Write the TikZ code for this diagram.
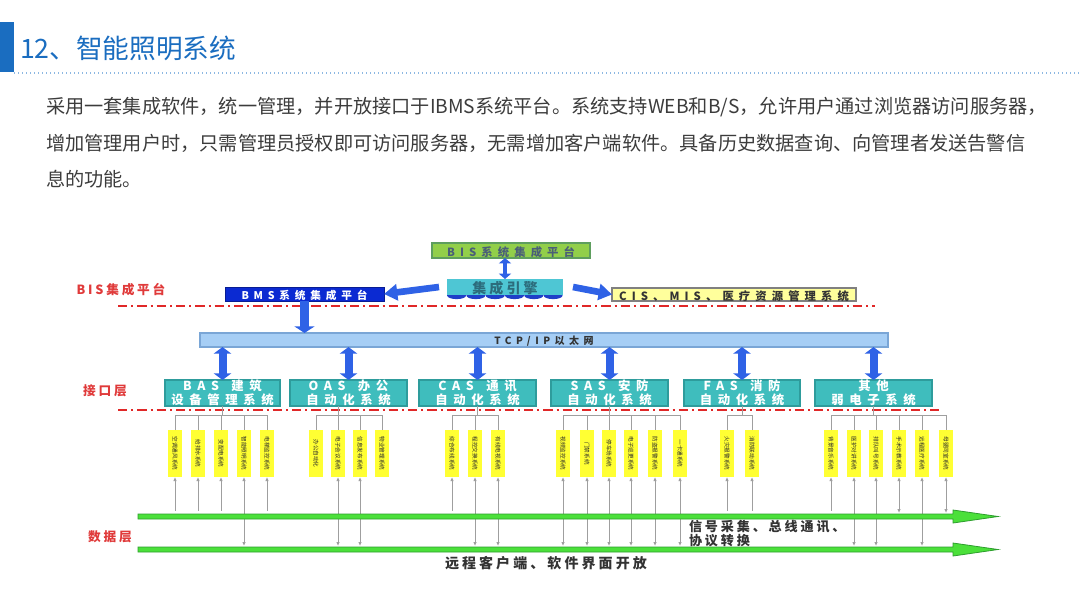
\documentclass[tikz,border=0pt]{standalone}
\usepackage{fontspec}
\setmainfont{Noto Sans CJK SC}
\newfontfamily\dfont{Noto Sans CJK SC}[LetterSpace=22]
\newfontfamily\dfontw{Noto Sans CJK SC}[LetterSpace=45]
\usetikzlibrary{arrows.meta,calc}
\definecolor{tblue}{HTML}{1A6DC0}
\definecolor{dotblue}{HTML}{8DB8E2}
\definecolor{paracol}{HTML}{3C3C3C}
\definecolor{lred}{HTML}{E03A3A}
\definecolor{dred}{HTML}{E02828}
\definecolor{bisgreen}{HTML}{92CF4A}
\definecolor{bisedge}{HTML}{5E9E5E}
\definecolor{bistext}{HTML}{4A5F78}
\definecolor{engcol}{HTML}{4EC6D4}
\definecolor{engtext}{HTML}{2C6C7C}
\definecolor{engblue}{HTML}{1F3FC8}
\definecolor{bmscol}{HTML}{0B2AD2}
\definecolor{ciscol}{HTML}{FFFF9C}
\definecolor{arrblue}{HTML}{2F62E6}
\definecolor{tcpcol}{HTML}{A6CEF5}
\definecolor{tcpedge}{HTML}{7AA6D6}
\definecolor{ifcol}{HTML}{3FBDBD}
\definecolor{ifedge}{HTML}{2E9C9C}
\definecolor{ybar}{HTML}{FFFF33}
\definecolor{glcol}{HTML}{4BE03A}
\definecolor{gledge}{HTML}{2E9E2E}
\definecolor{txtdark}{HTML}{333333}
\newcommand\dsz[1]{\dfont\bfseries\fontsize{#1}{#1}\selectfont}
\newcommand\dszw[1]{\dfontw\bfseries\fontsize{#1}{#1}\selectfont}
% box from pixel corners: name, x1, y1, x2, y2, style, text
\newcommand\bxx[7]{%
  \node[#6, minimum width={(#4-#2)*0.75pt}, minimum height={(#5-#3)*0.75pt}] (#1) at ({(#2+#4)/2},{(#3+#5)/2}) {};
  \node[#6, draw=none, fill=none, yshift=-1.1pt, textadj] (#1-t) at (#1.center) {#7};}
\tikzset{
  every node/.style={inner sep=0pt, outer sep=0pt},
  textadj/.style={},
  para/.style={anchor=west, text=paracol, font=\fontsize{14.4}{16}\selectfont},
  redlbl/.style={text=lred, font=\dsz{9.5}},
  rdash/.style={draw=dred, line width=1.5pt, dash pattern=on 7pt off 3pt on 1.5pt off 3pt},
  bisbox/.style={draw=bisedge, fill=bisgreen, line width=0.8pt, text=bistext, font=\dszw{8.5}},
  engbox/.style={fill=engcol, text=engtext, font=\dsz{10.5}},
  bmsbox/.style={draw=bmscol!70!black, fill=bmscol, line width=0.6pt, text=white, font=\dszw{8}},
  cisbox/.style={draw=gray, fill=ciscol, line width=0.8pt, text=txtdark, font=\dszw{8.5}},
  tcpbox/.style={draw=tcpedge, fill=tcpcol, line width=0.8pt, text=txtdark, font=\dszw{7.5}},
  ifbox/.style={draw=ifedge, fill=ifcol, line width=0.8pt, text=white, font=\dfontw\bfseries\fontsize{9.3}{10.6}\selectfont, align=center, textadj/.style={yshift=1.2pt}},
  ybox/.style={fill=ybar},
  ytext/.style={rotate=-90, text=txtdark!80!black, font=\fontsize{4.2}{5}\selectfont},
  fat2/.style={arrblue, line width=2.5pt, {Triangle[width=9pt,length=4pt]}-{Triangle[width=9pt,length=4pt]}},
  fatH/.style={arrblue, line width=5pt, -{Triangle[width=12pt,length=10pt]}},
  fatD/.style={arrblue, line width=7pt, -{Triangle[width=15pt,length=5pt]}},
  fatDB/.style={arrblue, line width=6pt, {Triangle[width=13pt,length=5pt]}-{Triangle[width=13pt,length=5pt]}},
  gl/.style={draw=gray!75, line width=0.7pt},
  upar/.style={gl, {Latex[length=3pt,width=2.6pt]}-},
  bothar/.style={gl, {Latex[length=3pt,width=2.6pt]}-{Latex[length=3pt,width=2.6pt]}},
  gline/.style={fill=glcol, draw=gledge, line width=0.6pt},
  btxt/.style={anchor=west, text=txtdark, font=\dsz{9.8}},
}
\begin{document}
\begin{tikzpicture}[x=0.75pt,y=-0.75pt]
\useasboundingbox[fill=white] (0,0) rectangle (1080,608);
% title
\fill[tblue] (0,22) rectangle (14,72);
\node[anchor=west, text=tblue, font=\fontsize{20}{24}\selectfont] (title) at (20,48) {12、智能照明系统};
\draw[dotblue, line width=1pt, dotted] (14,73) -- (1080,73);
% paragraph
\node[para] (p1) at (46,107) {采用一套集成软件，统一管理，并开放接口于IBMS系统平台。系统支持WEB和B/S，允许用户通过浏览器访问服务器，};
\node[para] (p2) at (46,143) {增加管理用户时，只需管理员授权即可访问服务器，无需增加客户端软件。具备历史数据查询、向管理者发送告警信};
\node[para] (p3) at (46,179) {息的功能。};
% top platform
\bxx{bis}{432}{243}{590}{258}{bisbox}{BIS系统集成平台}
\foreach \i in {0,...,5} \fill[engblue] (456.6+\i*19.3,295.5) ellipse (9.5 and 3.6);
\bxx{eng}{447}{279}{563}{295}{engbox}{集成引擎}
\bxx{bms}{225}{287}{384}{301}{bmsbox}{BMS系统集成平台}
\bxx{cis}{612}{288}{856}{301}{cisbox}{CIS、MIS、医疗资源管理系统}
\draw[fat2] (eng.north |- bis.south) -- (eng.north);
\draw[fatH] ($(eng.west)+(-8,0)$ |- bms.east) -- (bms.east);
\draw[fatH] ($(eng.east)+(10,0)$ |- cis.west) -- (cis.west);
\node[redlbl] (lbis) at (121,290) {BIS集成平台};
\draw[rdash] (118,306) -- (875,306);
% TCP bar
\bxx{tcp}{200}{333}{888}{347}{tcpbox}{TCP/IP以太网}
\draw[fatD] (bms.south) -- (bms.south |- tcp.north);
% interface layer
\bxx{bas}{165}{380}{280}{406}{ifbox}{BAS\hspace{1em}建筑\\设备管理系统}
\bxx{oas}{290}{380}{407}{406}{ifbox}{OAS\hspace{1em}办公\\自动化系统}
\bxx{cas}{419}{380}{536}{406}{ifbox}{CAS\hspace{1em}通讯\\自动化系统}
\bxx{sas}{551}{380}{668}{406}{ifbox}{SAS\hspace{1em}安防\\自动化系统}
\bxx{fas}{684}{380}{800}{406}{ifbox}{FAS\hspace{1em}消防\\自动化系统}
\bxx{oth}{815}{380}{932}{406}{ifbox}{其他\\弱电子系统}
\foreach \n in {bas,oas,cas,sas,fas,oth} \draw[fatDB] (\n.north |- tcp.south) -- (\n.north);
\node[redlbl] (ljk) at (105,391) {接口层};
\draw[rdash] (118,410) -- (940,410);
% subsystem bars
\coordinate (h1) at (0,415);
\foreach \x/\s in {175/空调通风系统, 198/给排水系统, 221/变配电系统, 244/智能照明系统, 267/电梯监控系统,
  316/办公自动化, 338/电子会议系统, 360/信息发布系统, 382/物业管理系统,
  452/综合布线系统, 475/程控交换系统, 498/有线电视系统,
  563/视频监控系统, 587/门禁系统, 609/停车场系统, 631/电子巡更系统, 655/防盗报警系统, 680/一卡通系统,
  727/火灾报警系统, 752/消防联动系统,
  831/背景音乐系统, 854/医护对讲系统, 876/排队叫号系统, 899/手术示教系统, 922/远程医疗系统, 946/母婴同室系统}{
  \node[ybox, minimum width=10.5pt, minimum height=35.25pt] (b\x) at (\x,453.5) {};
  \node[ytext] at (b\x.center) {\s};
  \draw[gl] (b\x.north) -- (b\x.north |- h1);
}
\draw[gl] (bas.south) -- (bas.south |- h1);
\draw[gl] (oas.south -| b338.north) -- (b338.north |- h1);
\draw[gl] (cas.south) -- (cas.south |- h1);
\draw[gl] (sas.south) -- (sas.south |- h1);
\draw[gl] (fas.south) -- (fas.south |- h1);
\draw[gl] (oth.south) -- (oth.south |- h1);
\draw[gl] (b175.north |- h1) -- (b267.north |- h1);
\draw[gl] (b316.north |- h1) -- (b382.north |- h1);
\draw[gl] (b452.north |- h1) -- (b498.north |- h1);
\draw[gl] (b563.north |- h1) -- (b680.north |- h1);
\draw[gl] (b727.north |- h1) -- (b752.north |- h1);
\draw[gl] (b831.north |- h1) -- (b946.north |- h1);
% data layer
\coordinate (ls) at (0,511);
\coordinate (lm) at (0,513);
\coordinate (ll) at (0,546);
\foreach \x in {175,198,221,267,452,727,752,831} \draw[upar] (b\x.south) -- (b\x.south |- ls);
\foreach \x in {899,946} \draw[bothar] (b\x.south) -- (b\x.south |- lm);
\foreach \x in {244,338,360,475,498,563,587,609,631,655,680,854,876,922} \draw[bothar] (b\x.south) -- (b\x.south |- ll);
\path[gline] (138,514) -- (953,514) -- (953,510) -- (998,516.5) -- (953,523) -- (953,519) -- (138,519) -- cycle;
\path[gline] (138,547) -- (953,547) -- (953,543) -- (998,549.5) -- (953,556) -- (953,552) -- (138,552) -- cycle;
\node[redlbl] (lsj) at (110,537) {数据层};
\node[btxt] (t1) at (689,527) {信号采集、总线通讯、};
\node[btxt] (t2) at (689,541) {协议转换};
\node[btxt, font=\dsz{10.5}] (t3) at (445,563) {远程客户端、软件界面开放};
\end{tikzpicture}
\end{document}
